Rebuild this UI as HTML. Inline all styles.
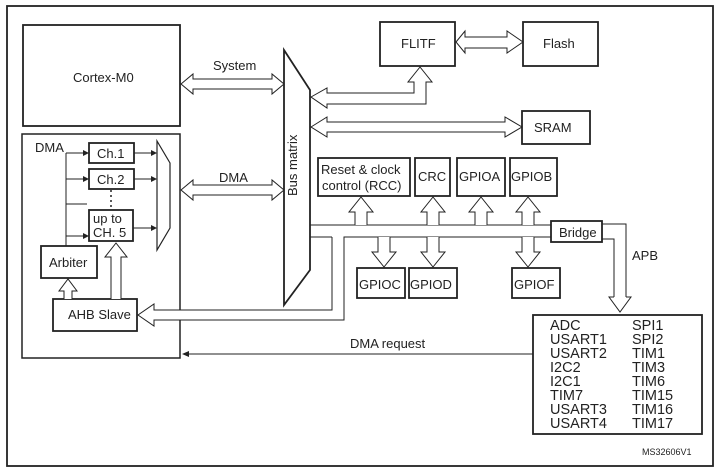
<!DOCTYPE html>
<html><head><meta charset="utf-8"><style>
html,body{margin:0;padding:0;background:#fff;}
svg{display:block;}
text{font-family:"Liberation Sans",Arial,sans-serif;font-size:13px;fill:#222;}
.pl{font-size:14.5px;}
</style></head><body>
<svg width="727" height="476" viewBox="0 0 727 476" xmlns="http://www.w3.org/2000/svg">
<defs>
<marker id="ah" markerWidth="6" markerHeight="6" refX="5" refY="3" orient="auto" markerUnits="userSpaceOnUse"><path d="M0,0 L6,3 L0,6 z" fill="#222"/></marker>
</defs>
<g fill="none" stroke="#222" stroke-width="1.5">
<rect x="7" y="6" width="706" height="460" stroke-width="1.8"/>
<rect x="23" y="25" width="157" height="101" stroke-width="1.8"/>
<rect x="22" y="134" width="158" height="224" stroke-width="1.5"/>
<rect x="89" y="143" width="45" height="20" stroke-width="1.8"/>
<rect x="89" y="169" width="45" height="20" stroke-width="1.8"/>
<rect x="89" y="210" width="44" height="31" stroke-width="1.8"/>
<rect x="41" y="246" width="56" height="32" stroke-width="1.8"/>
<rect x="53" y="299" width="84" height="32" stroke-width="1.8"/>
<rect x="380" y="22" width="75" height="44" stroke-width="1.8"/>
<rect x="523" y="22" width="75" height="44" stroke-width="1.8"/>
<rect x="522" y="111" width="68" height="33" stroke-width="1.8"/>
<rect x="318" y="158" width="92" height="38" stroke-width="1.8"/>
<rect x="415" y="158" width="35" height="38" stroke-width="1.8"/>
<rect x="457" y="158" width="48" height="38" stroke-width="1.8"/>
<rect x="510" y="158" width="47" height="38" stroke-width="1.8"/>
<rect x="357" y="268" width="48" height="30" stroke-width="1.8"/>
<rect x="409" y="268" width="48" height="30" stroke-width="1.8"/>
<rect x="512" y="268" width="48" height="30" stroke-width="1.8"/>
<rect x="551" y="221" width="51" height="21" stroke-width="1.8"/>
<rect x="533" y="315" width="169" height="119" stroke-width="1.8"/>
<path d="M284,50 L310,90 L310,270 L284,305 Z" stroke-width="1.8"/>
<path d="M157,141 L170,163 L170,228 L157,250 Z" stroke-width="1.2"/>
</g>
<g fill="none" stroke="#222" stroke-width="1">
<path d="M66,153 L66,246 M66,153 L87,153 M66,179 L87,179 M66,204 L87,204 M66,236 L87,236" />
<path d="M134,153 L155,153 M134,179 L155,179 M133,228 L155,228"/>
<path d="M111,190 L111,208" stroke-dasharray="2,3" stroke-width="1.5"/>
<path d="M533,354 L186,354"/>
</g>
<path d="M182,354 L189,351 L189,357 Z" fill="#222"/>
<g fill="none" stroke="#222" stroke-width="1" marker-end="url(#ah)">
<path d="M66,153 L88,153"/><path d="M66,179 L88,179"/><path d="M66,236 L88,236"/>
<path d="M134,153 L156,153"/><path d="M134,179 L156,179"/><path d="M133,228 L156,228"/>
</g>
<g fill="#fff" stroke="#222" stroke-width="1">
<path d="M181,84 L193,74 L193,79 L272,79 L272,74 L284,84 L272,94 L272,89 L193,89 L193,94 Z"/>
<path d="M181,190 L193,180 L193,185 L272,185 L272,180 L284,190 L272,200 L272,195 L193,195 L193,200 Z"/>
<path d="M456,42 L465,31 L465,37 L507,37 L507,31 L523,42 L507,53 L507,48 L465,48 L465,53 Z"/>
<path d="M311,127 L327,117 L327,122 L505,122 L505,117 L522,127 L505,137 L505,132 L327,132 L327,137 Z"/>
<path d="M311,97 L327,88 L327,93 L414,93 L414,82 L408,82 L420,67 L432,82 L426,82 L426,104 L327,104 L327,108 Z"/>
<path d="M64,299 L64,291 L59,291 L68,279 L77,291 L72,291 L72,299"/>
<path d="M111,299 L111,257 L105,257 L116,243 L127,257 L121,257 L121,299"/>
<path d="M332,237 L332,310 L154,310 L154,304 L138,315 L154,326 L154,320 L344,320 L344,243"/>
</g>
<g fill="none" stroke="#222" stroke-width="1">
<path d="M310,225 L551,225"/>
<path d="M310,237 L332,237 M344,243 L344,237 L551,237"/>
<path d="M602,224 L626,224 L626,297 M602,239 L614,239 L614,297"/>
</g>
<g fill="#fff" stroke="#222" stroke-width="1">
<path d="M355,225 L355,212 L349,212 L361,197 L373,212 L367,212 L367,225"/>
<path d="M427,225 L427,212 L421,212 L433,197 L445,212 L439,212 L439,225"/>
<path d="M475,225 L475,212 L469,212 L481,197 L493,212 L487,212 L487,225"/>
<path d="M522,225 L522,212 L516,212 L528,197 L540,212 L534,212 L534,225"/>
<path d="M378,237 L378,252 L372,252 L384,267 L396,252 L390,252 L390,237"/>
<path d="M427,237 L427,252 L421,252 L433,267 L445,252 L439,252 L439,237"/>
<path d="M522,237 L522,252 L516,252 L528,267 L540,252 L534,252 L534,237"/>
<path d="M614,297 L609,297 L620,312 L631,297 L626,297"/>
</g>
<text x="73" y="82">Cortex-M0</text>
<text x="213" y="70">System</text>
<text x="219" y="182">DMA</text>
<text x="35" y="152">DMA</text>
<text x="97" y="158">Ch.1</text>
<text x="97" y="184">Ch.2</text>
<text x="93" y="223">up to</text>
<text x="93" y="237">CH. 5</text>
<text x="49" y="267">Arbiter</text>
<text x="68" y="319">AHB Slave</text>
<text x="401" y="48">FLITF</text>
<text x="543" y="48">Flash</text>
<text x="534" y="132">SRAM</text>
<text transform="translate(297,196) rotate(-90)">Bus matrix</text>
<text x="321" y="174">Reset &amp; clock</text>
<text x="322" y="190">control (RCC)</text>
<text x="418" y="181">CRC</text>
<text x="459" y="181">GPIOA</text>
<text x="511" y="181">GPIOB</text>
<text x="359" y="289">GPIOC</text>
<text x="410" y="289">GPIOD</text>
<text x="514" y="289">GPIOF</text>
<text x="559" y="237">Bridge</text>
<text x="632" y="260">APB</text>
<text x="350" y="348">DMA request</text>
<g class="pl">
<text class="pl" x="550" y="330">ADC</text><text class="pl" x="632" y="330">SPI1</text>
<text class="pl" x="550" y="344">USART1</text><text class="pl" x="632" y="344">SPI2</text>
<text class="pl" x="550" y="358">USART2</text><text class="pl" x="632" y="358">TIM1</text>
<text class="pl" x="550" y="372">I2C2</text><text class="pl" x="632" y="372">TIM3</text>
<text class="pl" x="550" y="386">I2C1</text><text class="pl" x="632" y="386">TIM6</text>
<text class="pl" x="550" y="400">TIM7</text><text class="pl" x="632" y="400">TIM15</text>
<text class="pl" x="550" y="414">USART3</text><text class="pl" x="632" y="414">TIM16</text>
<text class="pl" x="550" y="428">USART4</text><text class="pl" x="632" y="428">TIM17</text>
</g>
<text x="642" y="455" style="font-size:9px">MS32606V1</text>
</svg>
</body></html>
